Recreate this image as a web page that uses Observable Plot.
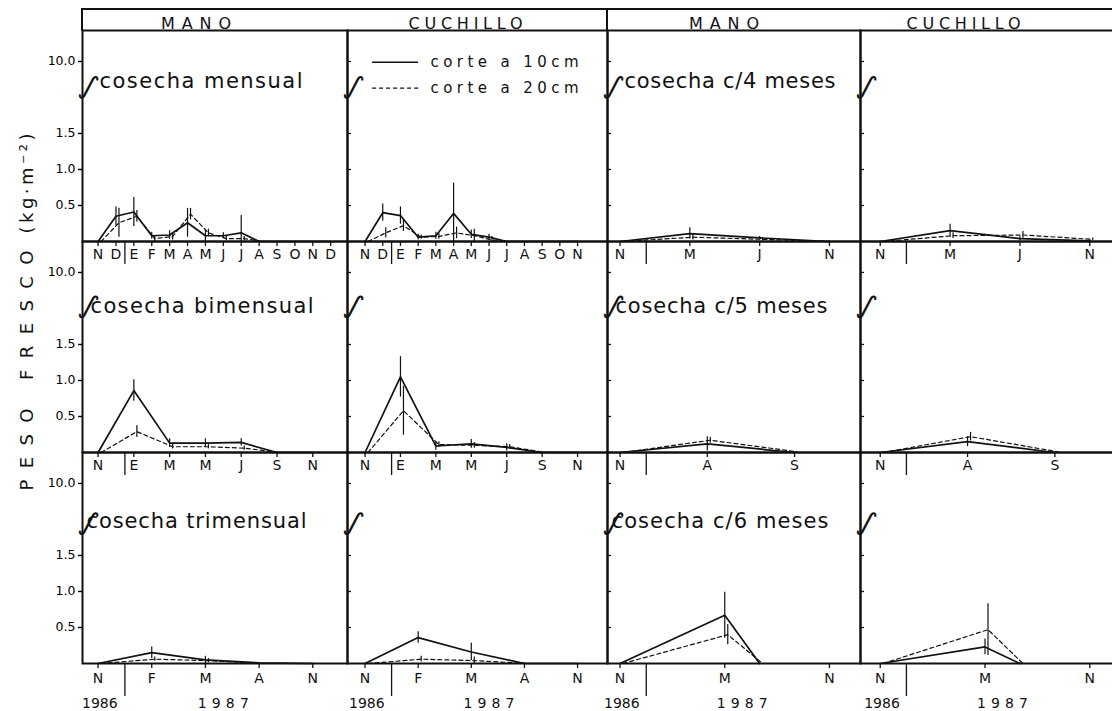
<!DOCTYPE html>
<html><head><meta charset="utf-8">
<script src="https://cdn.jsdelivr.net/npm/d3@7"></script>
<script src="https://cdn.jsdelivr.net/npm/@observablehq/plot@0.6"></script>
<style>
body{margin:0;background:#fff;}
#wrap{position:relative;width:1112px;height:711px;overflow:hidden;background:#fff;font-family:"DejaVu Sans",sans-serif;}
#wrap svg{position:absolute;top:0;overflow:visible;}
.hdr{position:absolute;top:8px;height:23px;border-top:2px solid #111;border-left:2px solid #111;box-sizing:border-box;}
</style></head><body>
<div id="wrap"><div class="hdr" style="left:81px;width:526px"></div><div class="hdr" style="left:606px;width:520px"></div></div>
<script>
// ---------- labels ----------
const monthLetters = ["N","D","E","F","M","A","M","J","J","A","S","O","N","D"]; // index 0 = Nov 1986
const columnLabels = ["MANO","CUCHILLO","MANO","CUCHILLO"];
const rowTitles = ["cosecha mensual","cosecha bimensual","cosecha trimensual","cosecha c/4 meses","cosecha c/5 meses","cosecha c/6 meses"];
const legendLabels = ["corte a 10cm","corte a 20cm"];
const yearLabels = ["1986","1987"];
const yTickValues = [0.5, 1.0, 1.5, 2.5];
const yTickLabels = ["0.5","1.0","1.5","10.0"];
const yLabelMain = "PESO FRESCO";
const yLabelUnit = "(kg·m⁻²)";

// ---------- harvest months (0 = Nov 1986) ----------
const monthsMensualMano = [0,1,2,3,4,5,6,7,8,9,10,11,12,13];
const monthsMensualCuchillo = [0,1,2,3,4,5,6,7,8,9,10,11,12];
const monthsBimensual = [0,2,4,6,8,10,12];
const monthsTrimensual = [0,3,6,9,12];
const monthsC4 = [0,4,8,12];
const monthsC5 = [0,5,10];
const monthsC6 = [0,6,8];
const ticksC6 = [0,6,12];

// ---------- values (kg/m2) : corte a 10 cm / 20 cm, with error ----------
const manoMensual10    = [0,0.35,0.41,0.08,0.09,0.26,0.08,0.08,0.12,0,0,0,0,0];
const manoMensual20    = [0,0.26,0.35,0.04,0.07,0.38,0.12,0.04,0.04,0,0,0,0,0];
const manoMensual10Err = [0,0.13,0.20,0.05,0.06,0.20,0.08,0.04,0.24,0,0,0,0,0];
const manoMensual20Err = [0,0.20,0.08,0.04,0.05,0.08,0.05,0.03,0.03,0,0,0,0,0];

const cuchMensual10    = [0,0.40,0.36,0.06,0.08,0.39,0.10,0.06,0,0,0,0,0];
const cuchMensual20    = [0,0.12,0.22,0.06,0.07,0.12,0.08,0.02,0,0,0,0,0];
const cuchMensual10Err = [0,0.12,0.12,0.04,0.05,0.42,0.06,0.04,0,0,0,0,0];
const cuchMensual20Err = [0,0.07,0.08,0.03,0.04,0.08,0.09,0.05,0,0,0,0,0];

const manoBim10    = [0,0.86,0.13,0.13,0.14,0,0];
const manoBim20    = [0,0.29,0.08,0.08,0.06,0,0];
const manoBim10Err = [0,0.15,0.06,0.06,0.05,0,0];
const manoBim20Err = [0,0.08,0.03,0.03,0.03,0,0];

const cuchBim10    = [0,1.05,0.09,0.12,0.07,0,0];
const cuchBim20    = [0,0.58,0.11,0.10,0.08,0,0];
const cuchBim10Err = [0,0.28,0.06,0.06,0.05,0,0];
const cuchBim20Err = [0,0.34,0.04,0.04,0.03,0,0];

const manoTri10    = [0,0.15,0.05,0.01,0];
const manoTri20    = [0,0.06,0.04,0,0];
const manoTri10Err = [0,0.08,0.05,0,0];
const manoTri20Err = [0,0.03,0.03,0,0];

const cuchTri10    = [0,0.36,0.16,0,0];
const cuchTri20    = [0,0.06,0.04,0,0];
const cuchTri10Err = [0,0.08,0.12,0,0];
const cuchTri20Err = [0,0.04,0.05,0,0];

const manoC4_10    = [0,0.11,0.05,0];
const manoC4_20    = [0,0.06,0.03,0];
const manoC4_10Err = [0,0.08,0.02,0];
const manoC4_20Err = [0,0.04,0.02,0];

const cuchC4_10    = [0,0.15,0.04,0.01];
const cuchC4_20    = [0,0.08,0.09,0.03];
const cuchC4_10Err = [0,0.09,0.03,0.01];
const cuchC4_20Err = [0,0.04,0.05,0.02];

const manoC5_10    = [0,0.12,0];
const manoC5_20    = [0,0.17,0.01];
const manoC5_10Err = [0,0.10,0];
const manoC5_20Err = [0,0.04,0];

const cuchC5_10    = [0,0.15,0];
const cuchC5_20    = [0,0.22,0.01];
const cuchC5_10Err = [0,0.07,0];
const cuchC5_20Err = [0,0.06,0];

const manoC6_10    = [0,0.67,0];
const manoC6_20    = [0,0.40,0];
const manoC6_10Err = [0,0.32,0];
const manoC6_20Err = [0,0.14,0];

const cuchC6_10    = [0,0.23,0];
const cuchC6_20    = [0,0.47,0];
const cuchC6_10Err = [0,0.11,0];
const cuchC6_20Err = [0,0.36,0];

// ---------- panel assembly ----------
const P = (months, ticks, v10, v20, e10, e20, title) => ({months, ticks, v10, v20, e10, e20, title});
const panels = [
  [P(monthsMensualMano, monthsMensualMano, manoMensual10, manoMensual20, manoMensual10Err, manoMensual20Err, rowTitles[0]),
   P(monthsBimensual, monthsBimensual, manoBim10, manoBim20, manoBim10Err, manoBim20Err, rowTitles[1]),
   P(monthsTrimensual, monthsTrimensual, manoTri10, manoTri20, manoTri10Err, manoTri20Err, rowTitles[2])],
  [P(monthsMensualCuchillo, monthsMensualCuchillo, cuchMensual10, cuchMensual20, cuchMensual10Err, cuchMensual20Err, null),
   P(monthsBimensual, monthsBimensual, cuchBim10, cuchBim20, cuchBim10Err, cuchBim20Err, null),
   P(monthsTrimensual, monthsTrimensual, cuchTri10, cuchTri20, cuchTri10Err, cuchTri20Err, null)],
  [P(monthsC4, monthsC4, manoC4_10, manoC4_20, manoC4_10Err, manoC4_20Err, rowTitles[3]),
   P(monthsC5, monthsC5, manoC5_10, manoC5_20, manoC5_10Err, manoC5_20Err, rowTitles[4]),
   P(monthsC6, ticksC6, manoC6_10, manoC6_20, manoC6_10Err, manoC6_20Err, rowTitles[5])],
  [P(monthsC4, monthsC4, cuchC4_10, cuchC4_20, cuchC4_10Err, cuchC4_20Err, null),
   P(monthsC5, monthsC5, cuchC5_10, cuchC5_20, cuchC5_10Err, cuchC5_20Err, null),
   P(monthsC6, ticksC6, cuchC6_10, cuchC6_20, cuchC6_10Err, cuchC6_20Err, null)]
];

// ---------- layout (not data) ----------
const rowKeys = ["r1","r2","r3"];
const FH = 211;                 // facet height
const yTop = 2.93;
const rowTitleY = [2.22, 2.03, 1.97];
const titleDx = [17, 8, 4];
const breakY = [2.2, 2.08, 2.0];
const yearBoundary = 1.5;       // 1 Jan 1987
const yearX = [0.1, 7];
const colLayouts = [
  {left: 0,   width: 349, mL: 82, mR: 2, domain: [-0.87, 13.94], hdx: -19},
  {left: 345, width: 264, mL: 2,  mR: 2, domain: [-0.99, 13.69], hdx: -12},
  {left: 605, width: 257, mL: 2,  mR: 2, domain: [-0.72, 13.78], hdx: -10},
  {left: 858, width: 258, mL: 2,  mR: 0, domain: [-1.13, 13.53], hdx: -25}
];
const textWidths = {
  "MANO": 70, "CUCHILLO": 114,
  "cosecha mensual": 203, "cosecha bimensual": 223, "cosecha trimensual": 220,
  "cosecha c/4 meses": 211, "cosecha c/5 meses": 212, "cosecha c/6 meses": 217,
  "corte a 10cm": 148, "corte a 20cm": 148, "1987": 51
};
const ink = "#111";

function buildColumn(ci) {
  const L = colLayouts[ci];
  const innerW = L.width - L.mL - L.mR;
  const s10 = [], s20 = [], e10 = [], e20 = [], ticks = [], seps = [], titles = [], breaks = [];
  panels[ci].forEach((p, ri) => {
    const row = rowKeys[ri];
    p.months.forEach((m, i) => {
      s10.push({row, m, v: p.v10[i]});
      s20.push({row, m, v: p.v20[i]});
      if (p.e10[i] > 0) e10.push({row, m, lo: Math.max(0, p.v10[i] - p.e10[i]), hi: p.v10[i] + p.e10[i]});
      if (p.e20[i] > 0) e20.push({row, m, lo: Math.max(0, p.v20[i] - p.e20[i]), hi: p.v20[i] + p.e20[i]});
    });
    p.ticks.forEach(m => ticks.push({row, m}));
    seps.push({row, m: yearBoundary});
    if (p.title) titles.push({row, ri, y: rowTitleY[ri], title: p.title});
    breaks.push({row, y: breakY[ri]});
  });
  const years = yearLabels.map((label, i) => ({row: "r3", m: yearX[i], label}));

  const marks = [
    Plot.frame({stroke: ink, strokeWidth: 2}),
    Plot.line(s20, {x: "m", y: "v", fy: "row", stroke: ink, strokeWidth: 1.2, strokeDasharray: "4,3", dx: 3}),
    Plot.line(s10, {x: "m", y: "v", fy: "row", stroke: ink, strokeWidth: 1.7}),
    Plot.ruleX(e10, {x: "m", y1: "lo", y2: "hi", fy: "row", stroke: ink, strokeWidth: 1.2}),
    Plot.ruleX(e20, {x: "m", y1: "lo", y2: "hi", fy: "row", stroke: ink, strokeWidth: 1.2, dx: 3}),
    Plot.ruleX(ticks, {x: "m", fy: "row", insetTop: FH, insetBottom: -5, stroke: ink, strokeWidth: 1.3}),
    Plot.text(ticks.filter(d => d.row !== "r3"), {x: "m", fy: "row", frameAnchor: "bottom", dy: 17, text: d => monthLetters[d.m], fontSize: 14, fill: ink}),
    Plot.text(ticks.filter(d => d.row === "r3"), {x: "m", fy: "row", frameAnchor: "bottom", dy: 19, text: d => monthLetters[d.m], fontSize: 14, fill: ink}),
    Plot.ruleX(seps.filter(d => d.row !== "r3"), {x: "m", fy: "row", insetTop: FH, insetBottom: -23, stroke: ink, strokeWidth: 1.3}),
    Plot.ruleX(seps.filter(d => d.row === "r3"), {x: "m", fy: "row", insetTop: FH, insetBottom: -33, stroke: ink, strokeWidth: 1.3}),
    Plot.text(years, {x: "m", fy: "row", frameAnchor: "bottom", dy: 44, text: "label", fontSize: 14, fill: ink}),
    ...titles.map(t => Plot.text([t], {y: "y", fy: "row", frameAnchor: "left", dx: titleDx[t.ri], textAnchor: "start", text: "title", fontSize: 21, fill: ink})),
    Plot.text(breaks, {y: "y", fy: "row", frameAnchor: "left", text: () => "∫", rotate: 25, fontSize: 28, fill: ink}),
    Plot.text([{row: "r1", label: columnLabels[ci]}], {fy: "row", frameAnchor: "top", dy: -13, dx: L.hdx, text: "label", fontSize: 16, fill: ink})
  ];
  if (ci === 0) {
    marks.push(Plot.axisY(yTickValues, {tickFormat: d => yTickLabels[yTickValues.indexOf(d)], tickSize: 4, tickPadding: 3, fontSize: 12.5, label: null, strokeWidth: 1.4}));
    marks.push(Plot.text([{row: "r2"}], {fy: "row", frameAnchor: "left", textAnchor: "middle", dx: -55, dy: -35, rotate: -90, text: () => yLabelMain + " " + yLabelUnit, fontSize: 18, fill: ink}));
  } else {
    marks.push(Plot.ruleY(yTickValues, {insetRight: innerW - 4, stroke: ink, strokeWidth: 1.3}));
  }
  if (ci === 1) {
    const leg = legendLabels.map((label, i) => ({row: "r1", y: 2.49 - i * 0.36, label, i}));
    marks.push(Plot.link(leg.filter(d => d.i === 0), {x1: () => 0.4, x2: () => 3.0, y1: "y", y2: "y", fy: "row", stroke: ink, strokeWidth: 1.6}));
    marks.push(Plot.link(leg.filter(d => d.i === 1), {x1: () => 0.4, x2: () => 3.0, y1: "y", y2: "y", fy: "row", stroke: ink, strokeWidth: 1.4, strokeDasharray: "4,3"}));
    marks.push(Plot.text(leg, {x: () => 3.7, y: "y", fy: "row", textAnchor: "start", text: "label", fontSize: 15, fill: ink}));
  }

  const svg = Plot.plot({
    width: L.width, height: 711,
    marginTop: 30, marginBottom: 48, marginLeft: L.mL, marginRight: L.mR,
    x: {domain: L.domain, axis: null},
    y: {domain: [0, yTop], axis: null},
    fy: {domain: rowKeys, padding: 0, axis: null},
    style: {fontFamily: "DejaVu Sans", background: "transparent", overflow: "visible"},
    marks
  });
  svg.style.left = L.left + "px";
  // spread lettering like the original (text stays the same words)
  d3.select(svg).selectAll("text").each(function() {
    const txt = this.textContent;
    if (txt in textWidths) {
      this.setAttribute("textLength", textWidths[txt]);
      this.setAttribute("lengthAdjust", "spacing");
    } else if (txt === yLabelMain + " " + yLabelUnit) {
      const t = d3.select(this);
      t.text(null);
      t.append("tspan").attr("textLength", 240).attr("lengthAdjust", "spacing").text(yLabelMain);
      t.append("tspan").text(" ");
      t.append("tspan").attr("textLength", 100).attr("lengthAdjust", "spacing").text(yLabelUnit);
    }
  });
  return svg;
}

const wrap = document.getElementById("wrap");
for (let ci = 0; ci < 4; ci++) wrap.appendChild(buildColumn(ci));
</script>
</body></html>
